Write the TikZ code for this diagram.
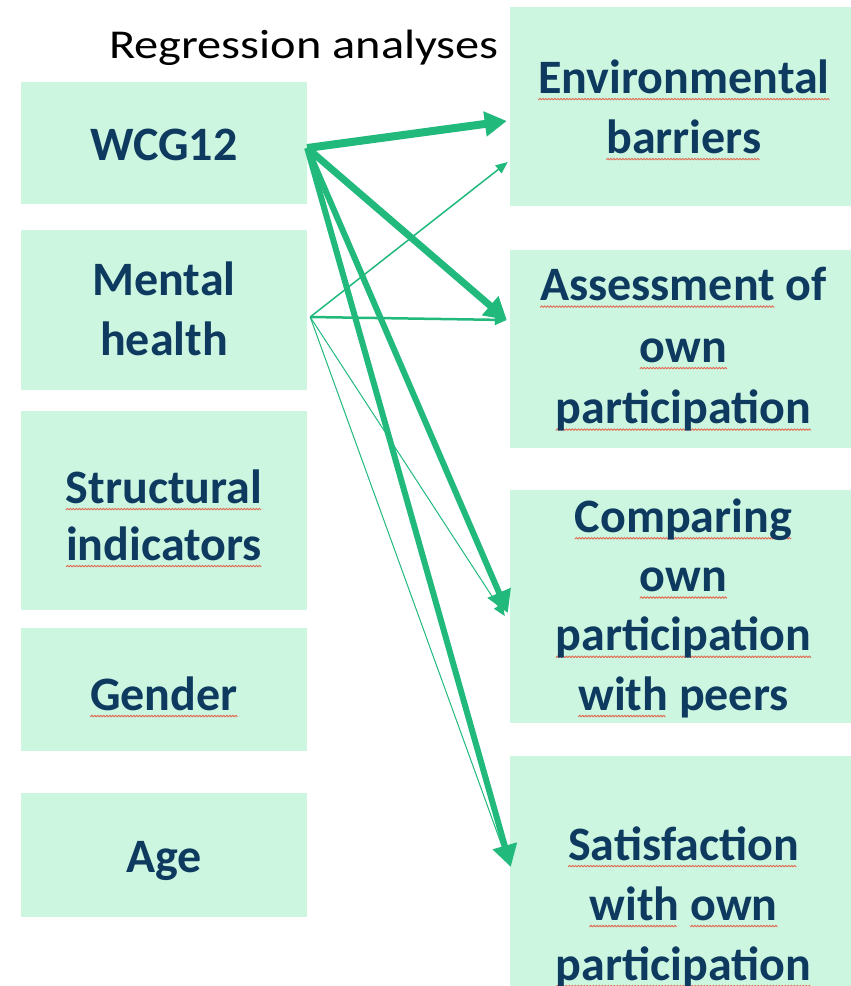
\documentclass[tikz,border=0pt]{standalone}
\usepackage{fontspec}
\usepackage{graphicx}
\setmainfont{Carlito}
\usetikzlibrary{arrows.meta}
\definecolor{boxfill}{HTML}{CCF6E0}
\definecolor{txt}{HTML}{0E3A60}
\definecolor{arr}{HTML}{22B97D}
\definecolor{squig}{HTML}{E26A52}
\newsavebox\wavebox
\newsavebox\sqbox
\newcommand\sq[1]{\sbox\sqbox{#1}\rlap{\hbox to \wd\sqbox{\leaders\hbox{\lower7pt\copy\wavebox}\hfill}}\usebox\sqbox}
\begin{document}
\sbox\wavebox{\pgfpicture
  \pgfpathrectanglecorners{\pgfpointorigin}{\pgfpoint{3pt}{1.8pt}}%
  \pgfusepath{use as bounding box}%
  \pgfsetlinewidth{0.9pt}\pgfsetroundcap\pgfsetroundjoin
  \pgfsetstrokecolor{squig}%
  \pgfpathmoveto{\pgfpoint{0pt}{0.1pt}}%
  \pgfpathlineto{\pgfpoint{1.5pt}{1.7pt}}%
  \pgfpathlineto{\pgfpoint{3pt}{0.1pt}}%
  \pgfusepath{stroke}%
  \endpgfpicture}%
\begin{tikzpicture}[x=1pt,y=-1pt,
  box/.style={fill=boxfill, draw=none, inner sep=0pt},
  lbox/.style={box, minimum width=286pt},
  rbox/.style={box, minimum width=345pt},
  label text/.style={inner sep=0pt, align=center, text=txt, anchor=base,
    font=\fontsize{48}{#1}\selectfont\bfseries},
  label text/.default=60,
  conn/.style={draw=arr, line width=#1},
  bigtip/.style={-{Triangle[length=22pt,width=24pt]}},
  smalltip/.style={-{Triangle[length=12pt,width=10pt]}},
  title/.style={font=\fontsize{41}{50}\selectfont, text=black, inner sep=0pt, anchor=base}]
\useasboundingbox (0,0) rectangle (851,986);
\clip (0,0) rectangle (851,986);
\fill[white] (0,0) rectangle (851,986);

% title
\node[title] (title) at (304,58) {\scalebox{1.18}[1]{Regression analyses}};

% left boxes
\node[lbox, minimum height=122pt] (wcg) at (164,143) {};
\node[lbox, minimum height=160pt] (mental) at (164,310) {};
\node[lbox, minimum height=199pt] (struct) at (164,510.5) {};
\node[lbox, minimum height=123pt] (gender) at (164,689.5) {};
\node[lbox, minimum height=124pt] (age) at (164,855) {};

% right boxes
\node[rbox, minimum height=199pt] (env) at (682.5,106.5) {};
\node[rbox, minimum height=198pt] (assess) at (682.5,349) {};
\node[rbox, minimum height=233pt] (comp) at (682.5,606.5) {};
\node[rbox, minimum height=294pt] (sat) at (682.5,903) {};

% texts (anchor = baseline of the last line)
\node[label text] (wcg-t) at (164,160) {WCG12};
\node[label text] (mental-t) at (164,355) {Mental\\health};
\node[label text=57] (struct-t) at (164,560) {\sq{Structural}\\\sq{indicators}};
\node[label text] (gender-t) at (164,710) {\sq{Gender}};
\node[label text] (age-t) at (164,872) {Age};
\node[label text] (env-t) at (684,153) {\sq{Environmental}\\\sq{barriers}};
\node[label text=61.5] (assess-t) at (683.5,423.5) {\sq{Assessment} of\\\sq{own}\\\sq{participation}};
\node[label text=59.3] (comp-t) at (683.5,710) {\sq{Comparing}\\\sq{own}\\\sq{participation}\\\sq{with} peers};
\node[label text] (sat-t) at (683.5,980) {\sq{Satisfaction}\\\sq{with} \sq{own}\\\sq{participation}};

% connectors from Mental health (thin)
\draw[conn=1.5pt, smalltip] ([xshift=3pt,yshift=-7pt]mental.east) -- ([xshift=-2pt,yshift=-55.5pt]env.west);
\draw[conn=2.5pt, smalltip] ([xshift=3pt,yshift=-7pt]mental.east) -- ([xshift=-3pt,yshift=29pt]assess.west);
\draw[conn=1pt, smalltip] ([xshift=3pt,yshift=-7pt]mental.east) -- ([xshift=-5pt,yshift=-9.5pt]comp.west);
\draw[conn=1pt, smalltip] ([xshift=3pt,yshift=-7pt]mental.east) -- ([xshift=-2pt,yshift=41pt]sat.west);

% connectors from WCG12 (thick)
\draw[conn=8pt, bigtip] ([yshift=-5pt]wcg.east) -- ([xshift=-3pt,yshift=-14.5pt]env.west);
\draw[conn=7pt, bigtip] ([yshift=-5pt]wcg.east) -- ([xshift=-3pt,yshift=29pt]assess.west);
\draw[conn=6pt, bigtip] ([yshift=-5pt]wcg.east) -- ([xshift=-2pt,yshift=-6.5pt]comp.west);
\draw[conn=6pt, bigtip] ([yshift=-5pt]wcg.east) -- ([xshift=1pt,yshift=36pt]sat.west);
\end{tikzpicture}
\end{document}
